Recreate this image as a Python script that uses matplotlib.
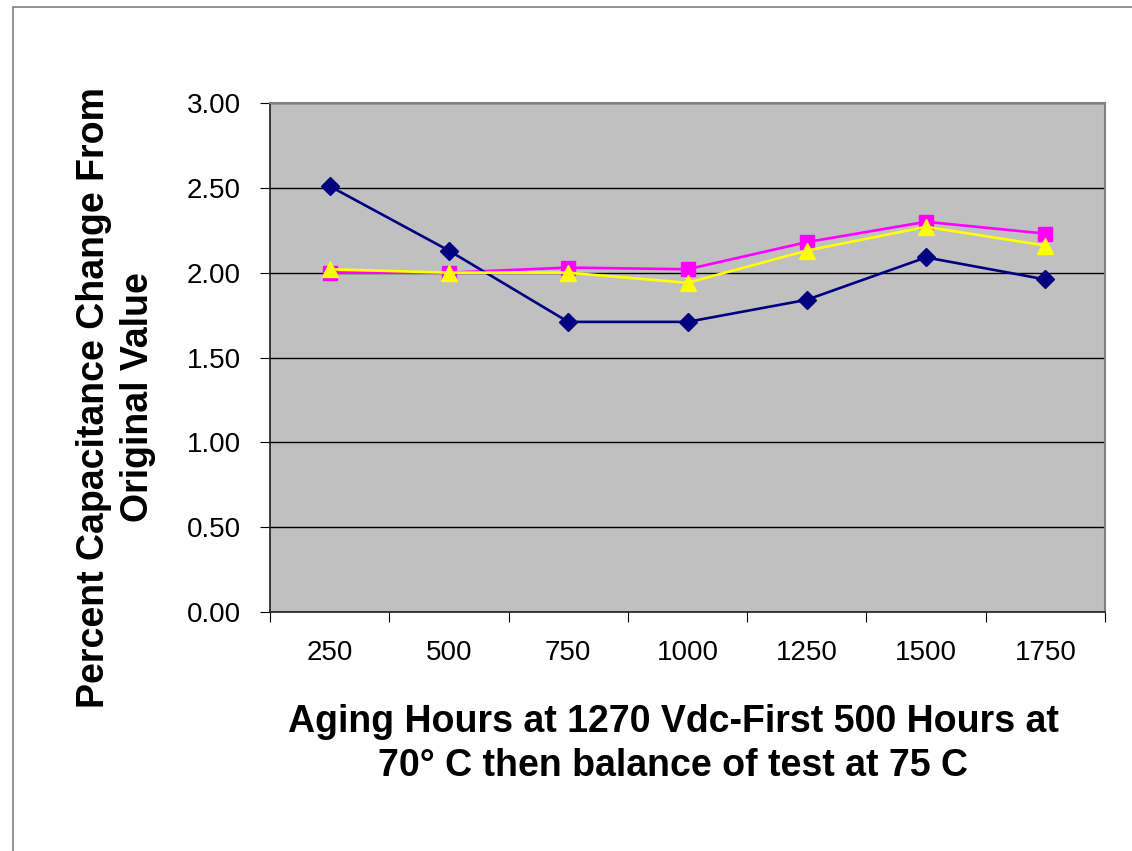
import matplotlib
matplotlib.use("Agg")
import matplotlib.pyplot as plt
from matplotlib.patches import Rectangle
import numpy as np

plt.rcParams['font.family'] = ['Liberation Sans', 'DejaVu Sans']

categories = ["250", "500", "750", "1000", "1250", "1500", "1750"]
series_blue = [2.51, 2.13, 1.71, 1.71, 1.84, 2.09, 1.96]
series_magenta = [2.00, 2.00, 2.03, 2.02, 2.18, 2.30, 2.23]
series_yellow = [2.02, 2.00, 2.00, 1.94, 2.13, 2.27, 2.16]
y_ticks = [0.0, 0.5, 1.0, 1.5, 2.0, 2.5, 3.0]

W, H = 1132, 851
fig = plt.figure(figsize=(W / 100, H / 100), dpi=100)
fig.patch.set_facecolor("white")
fig.patches.append(Rectangle((13 / W, -0.1), 1.2, 1 - 7 / H + 0.1, transform=fig.transFigure,
                             fill=False, edgecolor="#808080", linewidth=1.2))

ax = fig.add_axes([270 / W, 1 - 612 / H, (1105 - 270) / W, (612 - 103) / H])
ax.set_facecolor("#C0C0C0")
x = np.arange(len(categories))

ax.plot(x, series_blue, color="#000080", marker="D", markersize=9, linewidth=1.9, zorder=5)
ax.plot(x, series_magenta, color="#FF00FF", marker="s", markersize=10, linewidth=1.9, zorder=4)
ax.plot(x, series_yellow, color="#FFFF00", marker="^", markersize=11, linewidth=1.9, zorder=6)

ax.set_ylim(0, 3)
ax.set_xlim(-0.5, len(categories) - 0.5)
ax.set_yticks(y_ticks)
ax.set_yticklabels([f"{v:.2f}" for v in y_ticks], fontsize=20)
ax.yaxis.grid(True, color="black", linewidth=1)
ax.set_axisbelow(True)

ax.set_xticks(np.arange(-0.5, len(categories), 1.0))
ax.set_xticklabels([])
ax.set_xticks(x, minor=True)
ax.set_xticklabels(categories, minor=True, fontsize=20)
ax.tick_params(axis="x", which="major", direction="out", length=7, color="black")
ax.tick_params(axis="x", which="minor", length=0, pad=20)
ax.tick_params(axis="y", direction="out", length=7, pad=14)

for s in ["top", "right"]:
    ax.spines[s].set_color("#808080")
    ax.spines[s].set_linewidth(1.5)
for s in ["left", "bottom"]:
    ax.spines[s].set_color("#202020")
    ax.spines[s].set_linewidth(1.2)

fig.text(673 / W, 1 - 744 / H, "Aging Hours at 1270 Vdc-First 500 Hours at\n70° C then balance of test at 75 C",
         ha="center", va="center", fontsize=27, fontweight="bold", linespacing=1.25)
fig.text(116 / W, 1 - 397 / H, "Percent Capacitance Change From\nOriginal Value",
         ha="center", va="center", rotation=90, fontsize=27, fontweight="bold", linespacing=1.25)

fig.savefig("out.png", dpi=100)
